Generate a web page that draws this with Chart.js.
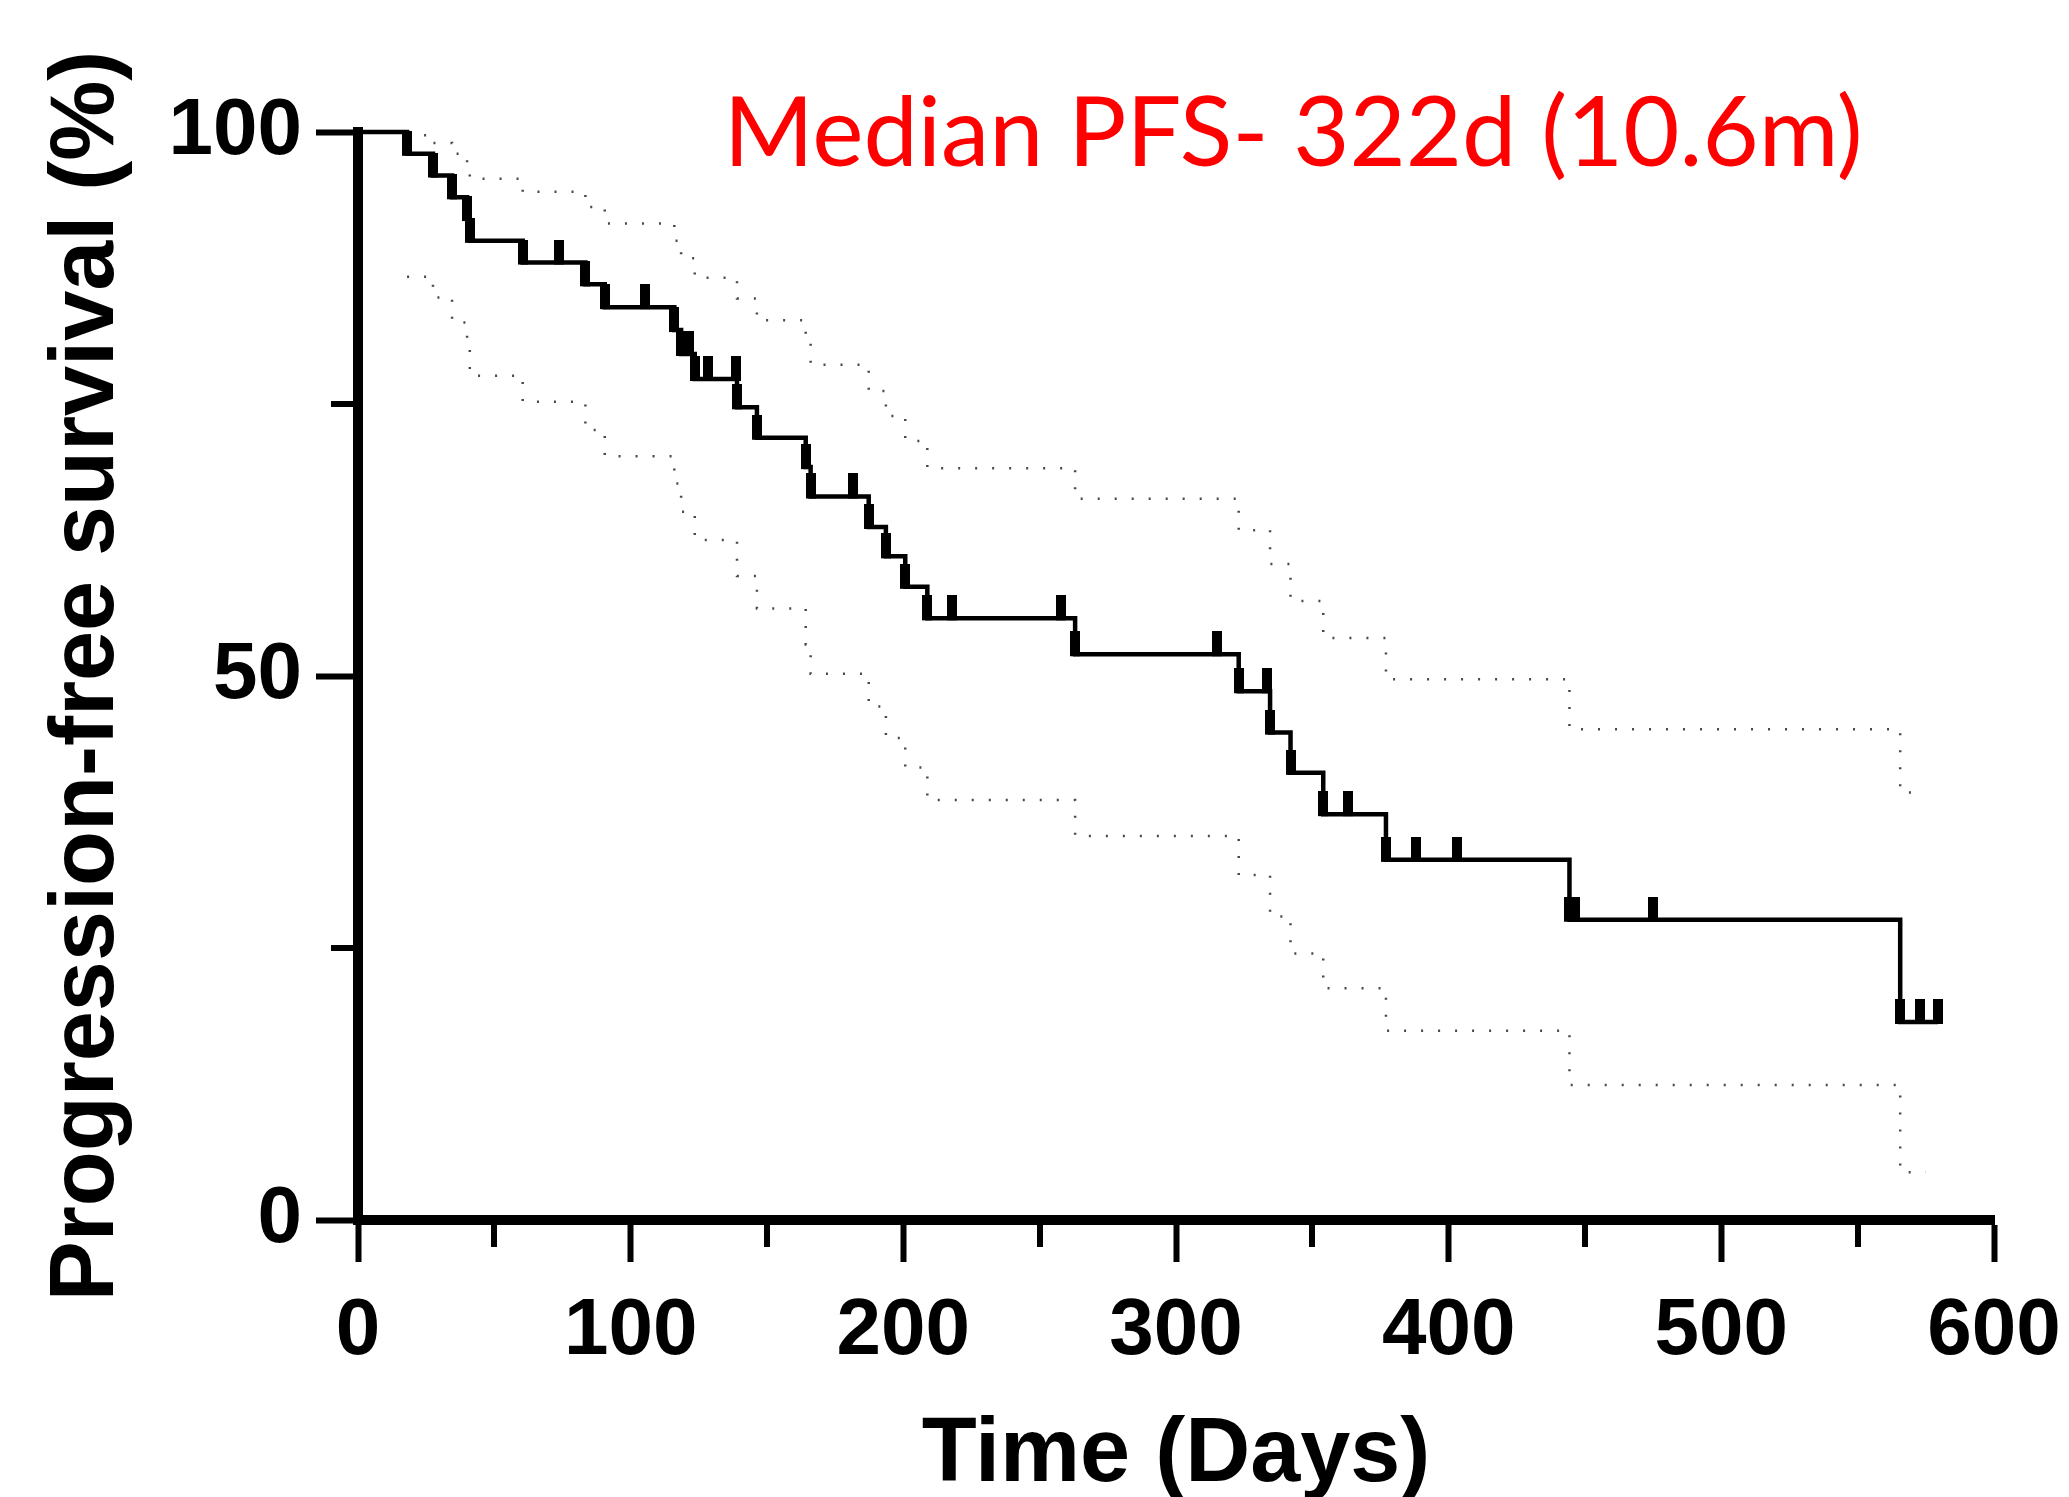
<!DOCTYPE html>
<html>
<head>
<meta charset="utf-8">
<title>Progression-free survival</title>
<script src="https://cdn.jsdelivr.net/npm/chart.js@4.4.1/dist/chart.umd.min.js"></script>
<style>
  html, body { margin: 0; padding: 0; background: #fff; }
  #wrap { width: 2069px; height: 1497px; }
</style>
</head>
<body>
<div id="wrap"><canvas id="pfsChart" width="2069" height="1497"></canvas></div>
<script>
// Courbe de Kaplan-Meier : jours des événements et survie après chaque chute
const eventDays = [18, 27.5, 34.5, 40, 41, 60.4, 83.4, 90.5, 116, 118.5, 123.5, 139, 146.3, 164.2, 166,
                   187.3, 193.6, 200.7, 208.8, 263, 323, 334.5, 342, 354, 377, 444.3, 565.6];
const eventPFS  = [98.0, 96.0, 94.0, 92.0, 90.0, 88.0, 86.0, 83.9, 81.8, 79.6, 77.3, 74.7, 71.9, 69.2, 66.5,
                   63.7, 61.0, 58.2, 55.3, 52.0, 48.6, 44.8, 41.1, 37.3, 33.1, 27.6, 18.2];

// Patients censurés
const censorDays = [73.7, 105.4, 121.5, 128.5, 138.5, 181.5, 217.8, 258, 315, 333.3, 363, 388, 403, 446.5, 475, 572.8, 579.5];
const censorPFS  = [88.0, 83.9, 79.6, 77.3, 77.3, 66.5, 55.3, 55.3, 52.0, 48.6, 37.3, 33.1, 33.1, 27.6, 27.6, 18.2, 18.2];

// Intervalle de confiance 95 % (bornes haute et basse)
const upperDays = [18, 27.5, 34.5, 40, 41, 60.4, 83.4, 90.5, 116, 118.5, 123.5, 139, 146.3, 164.2, 166,
                   187.3, 193.6, 200.7, 208.8, 263, 323, 334.5, 342, 354, 377, 444.3, 565.6, 575];
const upperPFS  = [99.7, 99.0, 98.0, 97.0, 95.7, 94.5, 93.1, 91.6, 90.0, 88.4, 86.6, 84.7, 82.7, 80.8, 78.6,
                   76.2, 73.9, 71.6, 69.1, 66.3, 63.4, 60.3, 56.9, 53.5, 49.7, 45.1, 39.3, 39.3];
const lowerDays = upperDays;
const lowerPFS  = [86.7, 84.8, 82.5, 80.0, 77.6, 75.2, 72.6, 70.2, 67.7, 65.1, 62.5, 59.2, 56.2, 52.9, 50.2,
                   47.2, 44.3, 41.6, 38.6, 35.3, 31.7, 27.9, 24.5, 21.3, 17.4, 12.4, 4.4, 4.4];

// Graduations
const xTickLabels = [0, 100, 200, 300, 400, 500, 600];
const xMinorTicks = [50, 150, 250, 350, 450, 550];
const yTickLabels = [0, 50, 100];
const yMinorTicks = [25, 75];

const xTitle = 'Time (Days)';
const yTitle = 'Progression-free survival (%)';
const medianText = 'Median PFS- 322d (10.6m)';
const medianAnchor = { day: 343, pct: 96.9 };

const boldFont = '"Liberation Sans", Arial, sans-serif';

// Marque verticale (événements et censures)
const tickMark = document.createElement('canvas');
tickMark.width = 10;
tickMark.height = 46;
const tctx = tickMark.getContext('2d');
tctx.fillStyle = '#000';
tctx.fillRect(0, 0, 10, 25);

const toPoints = (xs, ys) => xs.map((d, i) => ({ x: d, y: ys[i] }));

const kmPoints = [{ x: 0, y: 100 }]
  .concat(toPoints(eventDays, eventPFS))
  .concat([{ x: censorDays[censorDays.length - 1], y: censorPFS[censorPFS.length - 1] }]);

const ciStyle = {
  stepped: true,
  borderColor: 'rgba(40,40,40,0.85)',
  borderWidth: 2.5,
  borderDash: [2, 15],
  pointRadius: 0,
  fill: false,
  clip: false,
  order: 3
};

// Décor : petites graduations, titre vertical, médiane
const decorPlugin = {
  id: 'decor',
  afterDraw(chart) {
    const { ctx, scales: { x, y } } = chart;
    ctx.save();
    ctx.strokeStyle = '#000';
    ctx.lineWidth = 6;
    xMinorTicks.forEach(v => {
      const px = Math.round(x.getPixelForValue(v));
      ctx.beginPath();
      ctx.moveTo(px, y.bottom + 5);
      ctx.lineTo(px, y.bottom + 27);
      ctx.stroke();
    });
    yMinorTicks.forEach(v => {
      const py = Math.round(y.getPixelForValue(v));
      ctx.beginPath();
      ctx.moveTo(x.left - 5, py);
      ctx.lineTo(x.left - 27, py);
      ctx.stroke();
    });

    ctx.fillStyle = '#000';
    ctx.font = 'bold 90px ' + boldFont;
    ctx.textAlign = 'center';
    ctx.textBaseline = 'alphabetic';
    ctx.save();
    ctx.translate(113, (y.top + y.bottom) / 2);
    ctx.rotate(-Math.PI / 2);
    ctx.fillText(yTitle, 0, 0);
    ctx.restore();

    ctx.fillStyle = '#ff0000';
    ctx.font = '97px Lato, "Open Sans", sans-serif';
    ctx.fillText(medianText, x.getPixelForValue(medianAnchor.day), y.getPixelForValue(medianAnchor.pct));
    ctx.restore();
  }
};

Chart.defaults.color = '#000';

new Chart(document.getElementById('pfsChart'), {
  type: 'line',
  data: {
    datasets: [
      {
        label: 'PFS',
        data: kmPoints,
        stepped: true,
        borderColor: '#000',
        borderWidth: 4.5,
        pointStyle: tickMark,
        pointRadius: c => (c.dataIndex === 0 || c.dataIndex === kmPoints.length - 1) ? 0 : 3,
        fill: false,
        clip: false,
        order: 1
      },
      {
        label: 'Censored',
        data: toPoints(censorDays, censorPFS),
        showLine: false,
        pointStyle: tickMark,
        pointRadius: 3,
        clip: false,
        order: 0
      },
      { label: 'Upper 95% CI', data: toPoints(upperDays, upperPFS), ...ciStyle },
      { label: 'Lower 95% CI', data: toPoints(lowerDays, lowerPFS), ...ciStyle }
    ]
  },
  options: {
    responsive: false,
    animation: false,
    events: [],
    layout: { padding: { top: 132, right: 75, bottom: 0, left: 0 } },
    plugins: {
      legend: { display: false },
      tooltip: { enabled: false }
    },
    scales: {
      x: {
        type: 'linear',
        min: 0,
        max: 600,
        afterFit: s => { s.height = 277; s.paddingLeft = 0; s.paddingRight = 0; },
        border: { display: true, color: '#000', width: 10 },
        grid: {
          drawOnChartArea: false,
          drawTicks: true,
          tickLength: 42,
          tickWidth: 6,
          tickColor: c => (c.tick && xTickLabels.includes(c.tick.value)) ? '#000' : 'rgba(0,0,0,0)'
        },
        ticks: {
          stepSize: 100,
          autoSkip: false,
          maxRotation: 0,
          padding: 22,
          color: '#000',
          font: { family: boldFont, size: 80, weight: 'bold' },
          callback: v => xTickLabels.includes(v) ? v : ''
        },
        title: {
          display: true,
          text: xTitle,
          color: '#000',
          font: { family: boldFont, size: 90, weight: 'bold', lineHeight: 1 },
          padding: { top: 0, bottom: -4 }
        }
      },
      y: {
        type: 'linear',
        min: 0,
        max: 100,
        afterFit: s => { s.width = 358; },
        border: { display: true, color: '#000', width: 10 },
        grid: {
          drawOnChartArea: false,
          drawTicks: true,
          tickLength: 42,
          tickWidth: 6,
          tickColor: c => (c.tick && yTickLabels.includes(c.tick.value)) ? '#000' : 'rgba(0,0,0,0)'
        },
        ticks: {
          stepSize: 50,
          autoSkip: false,
          padding: 14,
          color: '#000',
          font: { family: boldFont, size: 80, weight: 'bold' },
          callback: v => yTickLabels.includes(v) ? v : ''
        }
      }
    }
  },
  plugins: [decorPlugin]
});
</script>
</body>
</html>
